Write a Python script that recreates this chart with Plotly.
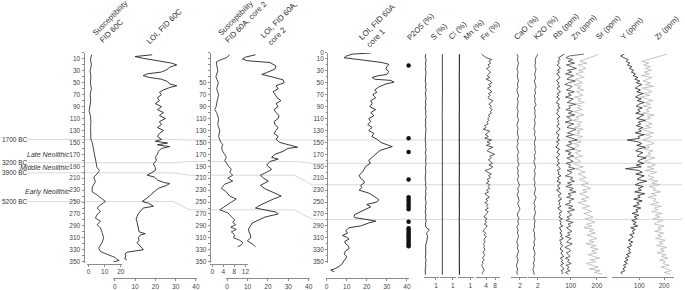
import plotly.graph_objects as go

# ---------------- data ----------------
SUSC60C_DEPTH = [3, 10, 20, 30, 40, 50, 60, 70, 80, 90, 98, 105, 115, 125, 135, 145, 150, 160, 170, 181,
                 192, 197, 203, 208, 216, 225, 233, 238, 244, 249, 255, 260, 266, 271, 277, 282, 288, 293,
                 301, 310, 318, 327, 333, 339, 343, 346, 348, 350]
SUSC60C = [2.0, 1.2, 1.8, 1.0, 1.5, 1.2, 1.8, 1.0, 1.4, 1.1, 0.4, 1.2, 1.5, 1.3, 1.6, 1.5, 2.3, 3.0, 3.3, 4.3,
           5.3, 6.8, 5.3, 3.3, 4.3, 2.3, 2.3, 5.3, 8.4, 10.5, 7.4, 5.3, 7.4, 5.3, 4.3, 7.4, 5.3, 7.4,
           8.4, 9.4, 8.4, 6.3, 7.4, 13.5, 16.6, 17.6, 19.0, 15.6]

LOI60C_DEPTH = [3, 6, 9, 13, 17, 20, 24, 28, 32, 35, 38, 41, 44, 48, 52, 55, 58, 62, 66, 70, 75, 80, 85, 90,
                95, 100, 105, 110, 115, 120, 125, 130, 135, 140, 145, 148, 151, 154, 157, 160, 165, 170,
                175, 180, 186, 192, 197, 201, 205, 208, 213, 217, 219, 222, 227, 231, 235, 240, 243, 247,
                249, 252, 255, 257, 260, 265, 270, 274, 279, 284, 290, 295, 300, 303, 305, 310, 314, 318,
                322, 325, 328, 330, 332, 334, 337, 340, 345, 347]
LOI60C = [18.4, 10.0, 14.0, 22.0, 28.0, 30.5, 27.0, 25.7, 23.0, 16.0, 14.0, 17.0, 23.0, 26.0, 27.0, 30.5,
          27.0, 24.0, 22.0, 23.0, 21.0, 22.0, 20.0, 23.0, 21.0, 24.0, 22.0, 25.0, 22.0, 23.0, 21.0, 24.0,
          22.0, 21.0, 23.0, 20.0, 26.0, 21.0, 27.0, 23.0, 21.5, 21.0, 20.0, 20.5, 19.0, 20.0, 20.0, 18.0,
          16.0, 19.5, 21.0, 24.0, 27.0, 25.5, 21.5, 20.0, 18.4, 17.0, 16.0, 14.0, 13.5, 16.7, 18.0, 19.0,
          14.0, 12.7, 11.5, 11.0, 10.5, 11.0, 11.5, 11.7, 12.0, 15.0, 12.7, 11.5, 12.0, 11.0, 12.0, 12.7,
          13.5, 14.1, 10.0, 6.0, 5.0, 5.4, 4.9, 5.9]

SUSC2_DEPTH = [3, 8, 12, 15, 20, 30, 40, 50, 60, 70, 80, 90, 95, 100, 110, 120, 130, 140, 150, 153, 160,
               165, 170, 175, 180, 185, 190, 195, 200, 205, 210, 215, 220, 227, 233, 240, 245, 250, 255,
               260, 263, 268, 275, 280, 284, 288, 292, 296, 300, 305, 310, 314, 318, 322, 325]
SUSC2 = [6.3, 5.1, 2.7, 1.5, 1.6, 2.0, 1.3, 2.2, 1.6, 2.3, 1.8, 1.4, 0.9, 1.6, 2.3, 2.0, 2.7, 2.3, 3.1, 3.8,
         3.4, 3.8, 4.5, 5.1, 4.5, 5.1, 5.9, 6.9, 6.3, 7.4, 5.6, 7.4, 4.5, 3.3, 5.1, 6.3, 8.7, 6.9, 5.1,
         3.8, 2.7, 5.6, 6.9, 8.1, 7.4, 8.5, 6.7, 8.7, 6.9, 8.1, 7.7, 9.9, 11.1, 10.5, 9.2]

LOI2_DEPTH = [3, 7, 10, 13, 16, 19, 22, 27, 31, 33, 36, 38, 41, 45, 50, 53, 55, 60, 65, 70, 75, 80, 85, 90,
              95, 100, 105, 110, 115, 120, 125, 130, 135, 140, 145, 150, 155, 158, 160, 165, 170, 175, 178,
              182, 188, 195, 200, 205, 210, 215, 222, 228, 235, 240, 245, 250, 255, 260, 263, 267, 270, 275,
              280, 285, 290, 295, 300, 305, 310, 315, 320, 325]
LOI2 = [13.9, 9.0, 7.5, 9.8, 21.0, 22.5, 24.0, 23.4, 21.0, 19.3, 17.0, 20.0, 23.0, 27.4, 28.0, 25.5, 24.0,
        25.0, 22.5, 23.6, 24.5, 26.4, 24.0, 25.0, 23.0, 24.0, 25.5, 25.0, 23.0, 23.4, 25.0, 24.0, 23.0, 25.0,
        24.0, 25.8, 30.5, 34.5, 29.8, 27.4, 23.4, 21.8, 25.0, 21.0, 19.4, 21.8, 19.4, 16.3, 17.9, 20.2, 16.3,
        18.7, 23.4, 26.5, 22.6, 19.3, 16.3, 13.9, 18.7, 24.2, 25.0, 18.7, 15.5, 12.3, 11.5, 10.5, 10.7, 11.5,
        11.5, 9.9, 12.3, 13.9]

LOI1_DEPTH = [0, 2, 5, 8, 11, 14, 16, 19, 23, 27, 31, 36, 38, 41, 44, 46, 49, 52, 57, 62, 66, 70, 75, 80,
              85, 90, 95, 100, 105, 110, 115, 120, 125, 130, 135, 140, 145, 150, 153, 155, 157, 160, 163,
              165, 170, 175, 180, 185, 190, 195, 200, 205, 210, 215, 218, 222, 226, 230, 235, 241, 246, 250,
              254, 258, 263, 268, 271, 274, 276, 279, 282, 285, 287, 290, 293, 298, 302, 306, 309, 312, 316,
              320, 324, 328, 332, 337, 341, 345, 349, 353, 358, 362, 364, 367]
LOI1 = [22.0, 12.8, 10.0, 8.7, 16.0, 23.0, 27.6, 31.0, 30.0, 29.5, 31.0, 30.0, 26.0, 22.7, 24.0, 32.0, 33.6,
        29.5, 26.0, 24.0, 25.0, 23.0, 24.5, 22.0, 22.7, 21.5, 24.4, 22.0, 23.6, 21.0, 22.0, 20.5, 22.7, 21.0,
        23.6, 22.5, 25.3, 27.0, 29.0, 31.0, 32.7, 29.4, 27.0, 26.0, 24.5, 22.8, 21.0, 21.8, 19.5, 18.7, 17.8,
        16.2, 16.9, 18.7, 18.7, 17.0, 17.5, 16.2, 21.0, 24.0, 26.0, 25.0, 20.0, 22.0, 19.0, 15.3, 14.0, 13.7,
        14.0, 19.5, 24.5, 21.0, 19.5, 17.0, 11.2, 9.5, 10.5, 7.9, 10.0, 11.2, 9.0, 9.5, 11.0, 11.2, 9.5, 8.7,
        10.0, 9.5, 8.5, 7.9, 6.2, 4.0, 2.1, 3.7]

P2O5_DEPTH = [21, 143, 166, 212, 242, 246, 250, 254, 258, 262, 283, 294, 297, 300, 303, 306, 309, 312, 315,
              318, 321, 324]
P2O5 = [1, 1, 1, 1, 1, 1, 1, 1, 1, 1, 1, 1, 1, 1, 1, 1, 1, 1, 1, 1, 1, 1]

XRF_DEPTH = list(range(2, 373, 5))       # coarse sampling depths (cm)
XRF_FINE_DEPTH = list(range(2, 372, 3))  # fine sampling depths (cm)

S_PCT = [0.15, 0.10, 0.18, 0.12, 0.16, 0.11, 0.17, 0.13, 0.15, 0.10,
         0.16, 0.12, 0.18, 0.11, 0.14, 0.17, 0.12, 0.15, 0.10, 0.16,
         0.13, 0.18, 0.12, 0.15, 0.11, 0.17, 0.14, 0.12, 0.16, 0.10,
         0.15, 0.13, 0.18, 0.11, 0.16, 0.12, 0.14, 0.17, 0.11, 0.15,
         0.13, 0.16, 0.10, 0.15, 0.12, 0.18, 0.13, 0.16, 0.11, 0.14,
         0.17, 0.12, 0.15, 0.10, 0.16, 0.13, 0.18, 0.12, 0.15, 0.45,
         0.20, 0.30, 0.28, 0.22, 0.14, 0.16, 0.12, 0.15, 0.11, 0.17,
         0.13, 0.15, 0.10, 0.14, 0.12]
CL_PCT = [0.12, 0.11, 0.12, 0.13, 0.12, 0.11, 0.12, 0.12, 0.13, 0.12,
          0.11, 0.12, 0.12, 0.13, 0.12, 0.11, 0.12, 0.12, 0.12, 0.13,
          0.12, 0.11, 0.12, 0.12, 0.13, 0.12, 0.12, 0.11, 0.12, 0.12,
          0.13, 0.12, 0.11, 0.12, 0.12, 0.13, 0.12, 0.12, 0.11, 0.12,
          0.12, 0.13, 0.12, 0.11, 0.12, 0.12, 0.13, 0.12, 0.12, 0.11,
          0.12, 0.12, 0.13, 0.12, 0.11, 0.12, 0.12, 0.13, 0.12, 0.12,
          0.11, 0.12, 0.12, 0.13, 0.12, 0.11, 0.12, 0.12, 0.13, 0.12,
          0.11, 0.12, 0.12, 0.13, 0.12]
MN_PCT = [0.09, 0.10, 0.09, 0.09, 0.10, 0.09, 0.08, 0.09, 0.10, 0.09,
          0.09, 0.10, 0.09, 0.08, 0.09, 0.10, 0.09, 0.09, 0.10, 0.09,
          0.08, 0.09, 0.10, 0.09, 0.09, 0.10, 0.09, 0.08, 0.09, 0.10,
          0.09, 0.09, 0.10, 0.09, 0.08, 0.09, 0.10, 0.09, 0.09, 0.10,
          0.09, 0.08, 0.09, 0.10, 0.09, 0.09, 0.10, 0.09, 0.08, 0.09,
          0.10, 0.09, 0.09, 0.10, 0.09, 0.08, 0.09, 0.10, 0.09, 0.09,
          0.10, 0.09, 0.08, 0.09, 0.10, 0.09, 0.09, 0.10, 0.09, 0.08,
          0.09, 0.10, 0.09, 0.09, 0.10]
CAO_PCT = [1.3, 1.6, 1.4, 1.7, 1.5, 1.3, 1.6, 1.4, 1.5, 1.7,
           1.4, 1.6, 1.3, 1.5, 1.7, 1.4, 1.6, 1.5, 1.3, 1.6,
           1.5, 1.4, 1.7, 1.5, 1.3, 1.6, 1.4, 1.5, 1.7, 1.4,
           1.6, 1.3, 1.5, 1.7, 1.4, 1.6, 1.5, 1.8, 1.4, 1.6,
           1.5, 1.7, 1.4, 1.6, 1.9, 1.5, 1.7, 1.4, 1.6, 1.8,
           1.5, 1.7, 2.0, 1.6, 1.4, 1.8, 1.5, 1.7, 1.3, 1.6,
           1.4, 1.7, 1.5, 1.3, 1.6, 1.4, 1.7, 1.5, 1.3, 1.6,
           1.4, 1.2, 1.5, 1.3, 1.4]
K2O_PCT = [2.0, 1.6, 1.4, 1.5, 1.3, 1.6, 1.4, 1.3, 1.5, 1.2,
           1.4, 1.6, 1.3, 1.5, 1.2, 1.4, 1.3, 1.6, 1.2, 1.4,
           1.3, 1.5, 1.2, 1.4, 1.3, 1.1, 1.4, 1.2, 1.5, 1.3,
           1.2, 1.4, 1.3, 1.5, 1.2, 1.4, 1.1, 1.3, 1.5, 1.2,
           1.4, 1.3, 1.1, 1.4, 1.2, 1.5, 1.3, 1.2, 1.6, 1.3,
           1.1, 1.4, 1.2, 1.5, 1.3, 1.1, 1.4, 1.2, 1.3, 1.0,
           1.3, 1.2, 1.4, 1.1, 1.3, 1.0, 1.2, 1.4, 1.1, 1.3,
           1.0, 1.2, 0.9, 1.1, 1.2]

FE_PCT = [2.0, 2.8, 4.0, 6.5, 5.2, 6.1, 4.8, 5.6, 4.2, 5.0,
          6.0, 5.2, 4.4, 5.7, 4.0, 5.9, 6.5, 5.1, 6.2, 4.6,
          5.5, 6.6, 5.0, 5.9, 4.8, 5.3, 7.1, 6.0, 5.2, 6.4,
          5.6, 6.8, 5.8, 6.3, 5.0, 5.6, 4.7, 5.2, 4.3, 4.9,
          3.2, 4.0, 2.7, 5.6, 4.6, 3.6, 5.0, 3.4, 6.4, 4.4,
          5.8, 4.1, 7.0, 5.2, 4.4, 6.1, 7.8, 5.6, 6.3, 5.0,
          5.8, 6.8, 5.2, 7.0, 5.9, 3.5, 4.8, 6.3, 5.1, 6.0,
          4.4, 5.3, 4.1, 5.6, 4.8, 5.7, 4.2, 5.1, 3.4, 4.6,
          5.5, 3.9, 4.7, 3.4, 4.8, 4.1, 5.0, 3.6, 4.9, 4.3,
          3.8, 3.0, 4.4, 3.5, 4.2, 3.1, 4.5, 3.7, 3.2, 2.7,
          3.8, 3.1, 4.1, 3.3, 3.0, 3.6, 2.7, 3.3, 2.9, 3.5,
          3.0, 2.6, 3.4, 2.8, 2.4, 3.1, 2.2, 2.6, 1.9, 2.5,
          2.8, 3.1, 2.3, 2.6]
RB_PPM = [75, 62, 54, 60, 51, 57, 49, 55, 61, 50,
          58, 47, 53, 60, 52, 46, 56, 50, 59, 48,
          54, 61, 49, 55, 47, 58, 52, 45, 57, 51,
          60, 49, 54, 46, 52, 59, 48, 55, 50, 57,
          47, 53, 60, 50, 45, 56, 52, 49, 58, 46,
          55, 50, 44, 57, 51, 48, 59, 53, 46, 55,
          50, 58, 47, 54, 61, 49, 56, 52, 63, 50,
          57, 48, 62, 54, 51, 60, 47, 56, 64, 52,
          58, 66, 53, 60, 55, 63, 51, 59, 67, 56,
          62, 55, 68, 58, 64, 60, 70, 57, 63, 66,
          59, 68, 62, 72, 58, 65, 61, 70, 64, 60,
          71, 63, 67, 74, 61, 69, 65, 73, 62, 68,
          75, 64, 70, 66]
ZN_PPM = [150, 95, 82, 108, 90, 115, 84, 100, 122, 88,
          104, 80, 112, 95, 86, 118, 92, 78, 106, 98,
          84, 114, 90, 102, 80, 110, 96, 87, 119, 93,
          100, 82, 108, 91, 116, 85, 98, 104, 79, 112,
          94, 86, 120, 100, 88, 110, 82, 105, 124, 92,
          106, 84, 98, 115, 80, 102, 90, 112, 86, 96,
          110, 83, 100, 92, 117, 86, 105, 95, 80, 108,
          98, 114, 88, 104, 82, 110, 96, 120, 90, 102,
          85, 112, 94, 100, 80, 108, 92, 115, 88, 98,
          104, 86, 96, 82, 110, 90, 100, 84, 95, 105,
          88, 98, 80, 102, 92, 85, 106, 90, 78, 96,
          100, 84, 92, 98, 80, 95, 88, 102, 82, 94,
          86, 98, 80, 92]
SR_PPM = [205, 192, 170, 150, 135, 162, 128, 145, 158, 130,
          148, 120, 138, 152, 118, 132, 145, 112, 140, 125,
          150, 122, 135, 146, 115, 138, 128, 152, 118, 140,
          125, 145, 112, 136, 150, 120, 132, 108, 142, 126,
          138, 115, 148, 124, 135, 110, 145, 130, 118, 140,
          112, 134, 122, 105, 140, 118, 130, 145, 115, 128,
          138, 110, 125, 148, 120, 135, 155, 128, 142, 160,
          132, 150, 168, 140, 158, 175, 145, 162, 135, 155,
          170, 140, 160, 128, 152, 172, 145, 165, 180, 150,
          168, 185, 155, 175, 192, 160, 180, 150, 188, 170,
          195, 162, 182, 200, 170, 188, 158, 196, 175, 205,
          180, 198, 165, 190, 210, 175, 195, 160, 185, 205,
          170, 212, 190, 220]
Y_PPM = [40, 25, 38, 55, 48, 62, 52, 70, 60, 78,
         68, 85, 75, 95, 82, 102, 88, 110, 94, 84,
         105, 90, 116, 96, 85, 108, 92, 120, 98, 88,
         112, 94, 104, 86, 118, 100, 90, 124, 96, 106,
         88, 114, 98, 108, 84, 120, 95, 102, 52, 96,
         110, 90, 125, 98, 86, 115, 100, 92, 128, 104,
         94, 118, 88, 108, 45, 98, 112, 86, 120, 102,
         92, 130, 100, 84, 116, 96, 108, 82, 122, 94,
         104, 78, 112, 90, 100, 76, 106, 86, 95, 72,
         98, 80, 92, 70, 88, 76, 94, 66, 84, 72,
         80, 62, 76, 68, 56, 74, 60, 70, 52, 64,
         56, 66, 48, 60, 44, 55, 40, 52, 36, 46,
         34, 42, 26, 32]
ZR_PPM = [212, 185, 160, 128, 110, 138, 118, 145, 125, 150,
          120, 140, 108, 152, 130, 115, 145, 125, 158, 112,
          138, 150, 118, 142, 105, 135, 155, 122, 145, 115,
          150, 128, 140, 112, 160, 132, 145, 118, 138, 152,
          125, 148, 110, 140, 158, 122, 150, 135, 115, 145,
          160, 128, 142, 118, 155, 135, 148, 125, 162, 140,
          120, 150, 165, 132, 158, 125, 170, 145, 135, 160,
          138, 175, 150, 182, 140, 165, 155, 185, 148, 170,
          135, 168, 158, 178, 145, 188, 160, 175, 150, 192,
          165, 182, 155, 195, 170, 160, 200, 175, 188, 162,
          198, 175, 190, 165, 205, 180, 195, 170, 210, 185,
          200, 172, 208, 190, 215, 182, 205, 195, 220, 188,
          210, 228, 200, 225]

HORIZON_LABELS = ["1700 BC", "3200 BC", "3900 BC", "5200 BC"]
HORIZON_60C = [145, 184, 201, 249]
HORIZON_CORE2 = [146, 182, 205, 263]
HORIZON_CORE1 = [146, 185, 221, 279]
PERIOD_LABELS = ["Late Neolithic", "Middle Neolithic", "Early Neolithic"]
PERIOD_DEPTH = [171, 192, 233]

TICKS_60C = [10, 30, 50, 70, 90, 110, 130, 150, 170, 190, 210, 230, 250, 270, 290, 310, 330, 350]
TICKS_CORE2 = [50, 70, 90, 110, 130, 150, 170, 190, 210, 230, 250, 270, 290, 310, 330, 350]
TICKS_CORE1 = [0, 10, 30, 50, 70, 90, 110, 130, 150, 170, 190, 210, 230, 250, 270, 290, 310, 330, 350]

HEADERS = ["Susceptibility<br>FID 60C", "LOI, FID 60C", "Susceptibility<br>FID 60A, core 2",
           "LOI, FID 60A,<br>core 2", "LOI, FID 60A<br>core 1", "P2O5 (%)", "S (%)", "Cl (%)", "Mn (%)",
           "Fe (%)", "CaO (%)", "K2O (%)", "Rb (ppm)", "Zn (ppm)", "Sr (ppm)", "Y (ppm)", "Zr (ppm)"]

# ---------------- layout helpers ----------------
W, H = 685, 290
TOP_PX = 50
K = 0.609  # px per cm of depth
FONT = "Liberation Sans, Arial, sans-serif"
TXT = "#444"
AXC = "#8c8c8c"
DARK = "#222"


def fx(p):
    return p / W


def fy(p):
    return 1 - p / H


fig = go.Figure()


def add_line(x, y, xa, ya, color=DARK, width=0.9):
    fig.add_trace(go.Scatter(x=x, y=y, xaxis=xa, yaxis=ya, mode="lines",
                             line=dict(color=color, width=width), hoverinfo="skip"))


add_line(SUSC60C, SUSC60C_DEPTH, "x", "y", "#333", 0.9)
add_line(LOI60C, LOI60C_DEPTH, "x2", "y")
add_line(SUSC2, SUSC2_DEPTH, "x3", "y2", "#333", 0.9)
add_line(LOI2, LOI2_DEPTH, "x4", "y2")
add_line(LOI1, LOI1_DEPTH, "x5", "y4")
fig.add_trace(go.Scatter(x=P2O5, y=P2O5_DEPTH, xaxis="x6", yaxis="y3", mode="markers",
                         marker=dict(color="#111", size=4.5), hoverinfo="skip"))
add_line(S_PCT, XRF_DEPTH, "x7", "y4", "#333", 0.9)
add_line(CL_PCT, XRF_DEPTH, "x8", "y4", "#333", 0.9)
add_line(MN_PCT, XRF_DEPTH, "x9", "y4", "#222", 1.1)
add_line(FE_PCT, XRF_FINE_DEPTH, "x10", "y4", "#333", 0.8)
add_line(CAO_PCT, XRF_DEPTH, "x11", "y4", "#333", 0.8)
add_line(K2O_PCT, XRF_DEPTH, "x12", "y4", "#333", 0.8)
add_line(SR_PPM, XRF_FINE_DEPTH, "x13", "y4", "#b5b5b5", 0.8)
add_line(ZN_PPM, XRF_FINE_DEPTH, "x13", "y4", "#444", 0.8)
add_line(RB_PPM, XRF_FINE_DEPTH, "x13", "y4", "#222", 0.8)
add_line(ZR_PPM, XRF_FINE_DEPTH, "x14", "y4", "#b5b5b5", 0.8)
add_line(Y_PPM, XRF_FINE_DEPTH, "x14", "y4", "#222", 0.8)

tickfont = dict(family=FONT, size=6.5, color=TXT)


def xaxis(zero_px, ppu, left, right, tickvals, pos_px, visible=True):
    return dict(domain=[fx(left), fx(right)],
                range=[(left - zero_px) / ppu, (right - zero_px) / ppu],
                anchor="free", position=fy(pos_px), visible=visible,
                showgrid=False, zeroline=False, showline=True, linecolor=AXC, linewidth=1,
                ticks="outside", ticklen=2, tickcolor=AXC, tickmode="array", tickvals=tickvals,
                tickfont=tickfont, fixedrange=True)


def yaxis(pos_px, tickvals, bottom_depth=352, visible=True):
    return dict(domain=[fy(TOP_PX + bottom_depth * K), fy(TOP_PX)], range=[bottom_depth, 0],
                anchor="free", position=fx(pos_px), visible=visible,
                showgrid=False, zeroline=False, showline=True, linecolor=AXC, linewidth=1,
                ticks="outside", ticklen=2, tickcolor=AXC, tickmode="array", tickvals=tickvals,
                tickfont=tickfont, fixedrange=True,
                minor=dict(dtick=10, tick0=0, ticks="outside", ticklen=1.5, tickcolor=AXC))


layout = dict(
    width=W, height=H, autosize=False, margin=dict(l=0, r=0, t=0, b=0),
    paper_bgcolor="white", plot_bgcolor="rgba(0,0,0,0)", showlegend=False,
    font=dict(family=FONT, color=TXT),
    xaxis=xaxis(88, 1.625, 86.5, 122, [0, 10, 20], 265),
    xaxis2=xaxis(114.5, 2.04, 113, 197, [0, 10, 20, 30, 40], 280),
    xaxis3=xaxis(212.5, 2.78, 210, 248, [0, 4, 8, 12], 265),
    xaxis4=xaxis(227.5, 2.05, 226.5, 310.5, [0, 10, 20, 30, 40], 280),
    xaxis5=xaxis(327.5, 2.02, 327, 410, [0, 10, 20, 30, 40], 280),
    xaxis6=xaxis(404, 6, 404, 416, [], 280, visible=False),
    xaxis7=xaxis(425.5, 12, 425, 441, [1], 279),
    xaxis8=xaxis(442.5, 12, 442, 458, [1], 279),
    xaxis9=xaxis(460, 12, 459.5, 475.5, [1], 279),
    xaxis10=xaxis(479, 2.25, 478, 502, [4, 8], 279),
    xaxis11=xaxis(513, 4.5, 512.5, 529, [2], 279),
    xaxis12=xaxis(531, 4.5, 530.5, 547, [2], 279),
    xaxis13=xaxis(546.5, 0.265, 547, 610, [100, 200], 279),
    xaxis14=xaxis(617, 0.25, 615, 677, [100, 200], 279),
    yaxis=yaxis(83, TICKS_60C),
    yaxis2=yaxis(210, TICKS_CORE2),
    yaxis3=yaxis(328, TICKS_CORE1),
    yaxis4=yaxis(0, [], bottom_depth=378, visible=False),
)
fig.update_layout(**layout)

# correlation lines between cores (depths per core, drawn on the shared depth scale)
SEG_X = [27, 173, 190, 295, 313, 685]
shapes = []
for d60, d2, d1 in zip(HORIZON_60C, HORIZON_CORE2, HORIZON_CORE1):
    ys = [d60, d60, d2, d2, d1, d1]
    for i in range(len(SEG_X) - 1):
        shapes.append(dict(type="line", xref="paper", yref="y4", layer="below",
                           x0=fx(SEG_X[i]), x1=fx(SEG_X[i + 1]), y0=ys[i], y1=ys[i + 1],
                           line=dict(color="#d9d9d9", width=1)))
fig.update_layout(shapes=shapes)

ann = []
for lab, d in zip(HORIZON_LABELS, HORIZON_60C):
    ann.append(dict(text=lab, xref="paper", yref="y4", x=0, y=d, xanchor="left", yanchor="middle",
                    showarrow=False, borderpad=0, font=dict(family=FONT, size=6.5, color="#333")))
for lab, d in zip(PERIOD_LABELS, PERIOD_DEPTH):
    ann.append(dict(text="<i>" + lab + "</i>", xref="paper", yref="y4", x=fx(70), y=d, xanchor="right",
                    yanchor="middle", showarrow=False, borderpad=0,
                    font=dict(family=FONT, size=7, color="#333")))

HEADER_POS = [(89, 43), (143, 44), (215, 43), (258, 46), (357, 47), (405, 40), (429, 40), (447, 40),
              (462, 40), (479, 40), (513, 40), (533, 40), (552, 40), (570, 40), (595, 40), (620, 40),
              (655, 40)]
for i, (txt, (px, py)) in enumerate(zip(HEADERS, HEADER_POS)):
    size = 8.0 if i == 4 else 7.8
    ann.append(dict(text=txt, xref="paper", yref="paper", x=fx(px), y=fy(py), xanchor="left",
                    yanchor="bottom", textangle=-45, align="left", showarrow=False, borderpad=0,
                    font=dict(family=FONT, size=size, color="#333")))
fig.update_layout(annotations=ann)

fig.write_html("out.html", config={"displayModeBar": False, "staticPlot": True},
               post_script="document.body.style.margin='0';document.body.style.overflow='hidden';")
